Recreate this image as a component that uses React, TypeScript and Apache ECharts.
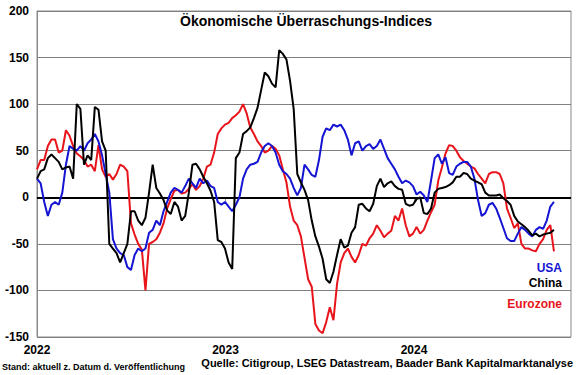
import React, { useEffect, useRef } from "react";
import * as echarts from "echarts";

// Weekly observations starting 2022-01-01
const startDate = "2022-01-01";
const stepDays = 7;

const usa = [
  20, 15, -5, -20, -8, -5, -8, 5, 35, 55,
  52, 50, 55, 50, 58, 62, 68, 60, 45, 25,
  5, -45, -55, -60, -62, -75, -78, -62, -55, -58,
  -55, -38, -35, -25, -30, -15, -5, 5, 10, 8,
  5, 12, 20, 15, 10, 20, 15, 18, 12, 10,
  -5, -8, -5, -10, -15, -8, 0, 20, 30, 35,
  36, 38, 48, 55, 58, 55, 48, 35, 28, 25,
  20, 10, 2, 10, 35, 30, 24, 22, 40, 65,
  74, 72, 78, 76, 78, 72, 62, 45, 58, 60,
  50, 55, 57, 52, 55, 62, 52, 42, 36, 30,
  22, 15, 18, 16, 12, 3, 6, 2, -5, 18,
  42, 46, 36, 43, 26, 24, 33, 36, 38, 38,
  33, 20, -3, -20, -17, -8, -6, -12, -22, -33,
  -44, -47, -47, -39, -32, -35, -39, -42, -35, -32,
  -34, -25, -10, -5,
];

const china = [
  20, 28, 30, 42, 46, 42, 38, 30, 32, 33,
  20, 100, 95, 35, 45, 40, 97, 94, 60, 50,
  -50, -55, -60, -70, -60, -50, -15, -15, -25, -30,
  -22, 5, 35, 10, 4, -3, -14, -18, -5, -10,
  -25, -20, 5, 35, 36, 30, 22, 15, 7, -5,
  -46, -48, -55, -70, -77, 42, 48, 68, 71, 75,
  85, 96, 115, 134, 130, 122, 118, 158, 154, 148,
  125, 95, 25, 16, 8, -3, -25, -42, -53, -66,
  -88, -92, -80, -62, -45, -54, -52, -38, -32, -8,
  -7, -12, -15, -7, 12, 20, 11, 15, 17, 12,
  9, 8, -7, -9, -8, -2, 0, -17, -18, -12,
  5, 9, 10, 11, 13, 16, 22, 22, 26, 25,
  20, 18, 16, 14, 5, 2, 2, 2, 3, -1,
  -4, -8, -20, -26, -29, -32, -36, -41, -39, -42,
  -40, -39, -38, -35,
];

const eurozone = [
  30, 40, 40, 55, 62, 62, 48, 50, 72, 66,
  55, 47, 44, 40, 33, 35, 28, 56, 30, 22,
  25, 19, 25, 35, 33, 28, -28, -40, -50, -56,
  -100, -50, -48, -45, -38, -28, -12, -2, 7, 8,
  4, 5, 9, 14, 8, 12, 20, 33, 35, 48,
  68, 74, 78, 80, 85, 88, 92, 100, 90, 75,
  68, 60, 55, 48, 50, 55, 52, 45, 30, 16,
  -10, -25, -30, -42, -65, -88, -96, -136, -143, -146,
  -134, -118, -132, -93, -70, -60, -55, -64, -70, -62,
  -50, -52, -44, -39, -30, -36, -43, -39, -36, -20,
  -25, -12, -30, -42, -39, -32, -39, -35, -25, -16,
  -8, 18, 32, 47, 56, 55, 50, 43, 39, 36,
  33, 31, 25, 20, 15, 25, 27, 27, 25, 15,
  -12, -22, -33, -28, -50, -55, -55, -57, -58, -50,
  -45, -35, -30, -58,
];

const yearTicks = ["2022-01-01", "2023-01-01", "2024-01-01"];
const axisMin = "2022-01-01";
const axisMax = "2024-10-31";

const titleText = "Ökonomische Überraschungs-Indices";
const standText = "Stand: aktuell z. Datum d. Veröffentlichung";
const sourceText = "Quelle: Citigroup, LSEG Datastream, Baader Bank Kapitalmarktanalyse";

const FONT = "'Liberation Sans', Arial, sans-serif";

const ms = (d: string) => new Date(d + "T00:00:00Z").getTime();

function toPairs(values: number[]) {
  const t0 = ms(startDate);
  return values.map((v, i) => [t0 + i * stepDays * 86400000, v]);
}

export default function App() {
  const ref = useRef<HTMLDivElement>(null);
  useEffect(() => {
    if (!ref.current) return;
    const chart = echarts.init(ref.current, null, { renderer: "svg" });
    const tickMs = yearTicks.map(ms);
    chart.setOption({
      animation: false,
      backgroundColor: "#ffffff",
      grid: {
        left: 37,
        right: 9,
        top: 11,
        bottom: 38,
        show: true,
        borderColor: "#8a8a8a",
        borderWidth: 1,
      },
      xAxis: {
        type: "value",
        min: ms(axisMin),
        max: ms(axisMax),
        axisLine: { show: true, lineStyle: { color: "#8a8a8a", width: 1 } },
        axisTick: {
          show: true,
          customValues: tickMs,
          length: 4,
          lineStyle: { color: "#8a8a8a" },
        },
        axisLabel: {
          customValues: tickMs,
          formatter: (v: number) => String(new Date(v).getUTCFullYear()),
          color: "#000",
          fontFamily: FONT,
          fontWeight: "bold",
          fontSize: 12,
          margin: 7,
        },
        splitLine: { show: false },
      },
      yAxis: {
        type: "value",
        min: -150,
        max: 200,
        interval: 50,
        axisLine: { show: true, lineStyle: { color: "#8a8a8a", width: 1 } },
        axisTick: { show: false },
        axisLabel: {
          color: "#000",
          fontFamily: FONT,
          fontWeight: "bold",
          fontSize: 12,
          margin: 8,
        },
        splitLine: { show: true, lineStyle: { color: "#808080", width: 1 } },
      },
      series: [
        {
          name: "Eurozone",
          type: "line",
          data: toPairs(eurozone),
          showSymbol: false,
          lineStyle: { color: "#e8141b", width: 2 },
          itemStyle: { color: "#e8141b" },
          z: 3,
          markLine: {
            silent: true,
            symbol: "none",
            label: { show: false },
            lineStyle: { color: "#000", width: 2, type: "solid" },
            data: [{ yAxis: 0 }],
            z: 2,
          },
        },
        {
          name: "USA",
          type: "line",
          data: toPairs(usa),
          showSymbol: false,
          lineStyle: { color: "#1414d2", width: 2 },
          itemStyle: { color: "#1414d2" },
          z: 4,
        },
        {
          name: "China",
          type: "line",
          data: toPairs(china),
          showSymbol: false,
          lineStyle: { color: "#000000", width: 2 },
          itemStyle: { color: "#000" },
          z: 5,
        },
      ],
      graphic: [
        {
          type: "text",
          left: 180,
          top: 14,
          style: {
            text: titleText,
            fill: "#000",
            font: `bold 14px ${FONT}`,
          },
        },
        {
          type: "text",
          right: 18,
          top: 262,
          style: { text: "USA", fill: "#1414d2", font: `bold 12px ${FONT}` },
        },
        {
          type: "text",
          right: 18,
          top: 277,
          style: { text: "China", fill: "#000", font: `bold 12px ${FONT}` },
        },
        {
          type: "text",
          right: 18,
          top: 298,
          style: { text: "Eurozone", fill: "#e8141b", font: `bold 12px ${FONT}` },
        },
        {
          type: "text",
          left: 2,
          top: 362,
          style: { text: standText, fill: "#000", font: `bold 9px ${FONT}` },
        },
        {
          type: "text",
          right: 7,
          top: 357,
          style: { text: sourceText, fill: "#000", font: `bold 11px ${FONT}` },
        },
      ],
    });
    return () => chart.dispose();
  }, []);
  return (
    <div
      ref={ref}
      style={{ position: "fixed", left: 0, top: 0, width: 580, height: 375 }}
    />
  );
}
